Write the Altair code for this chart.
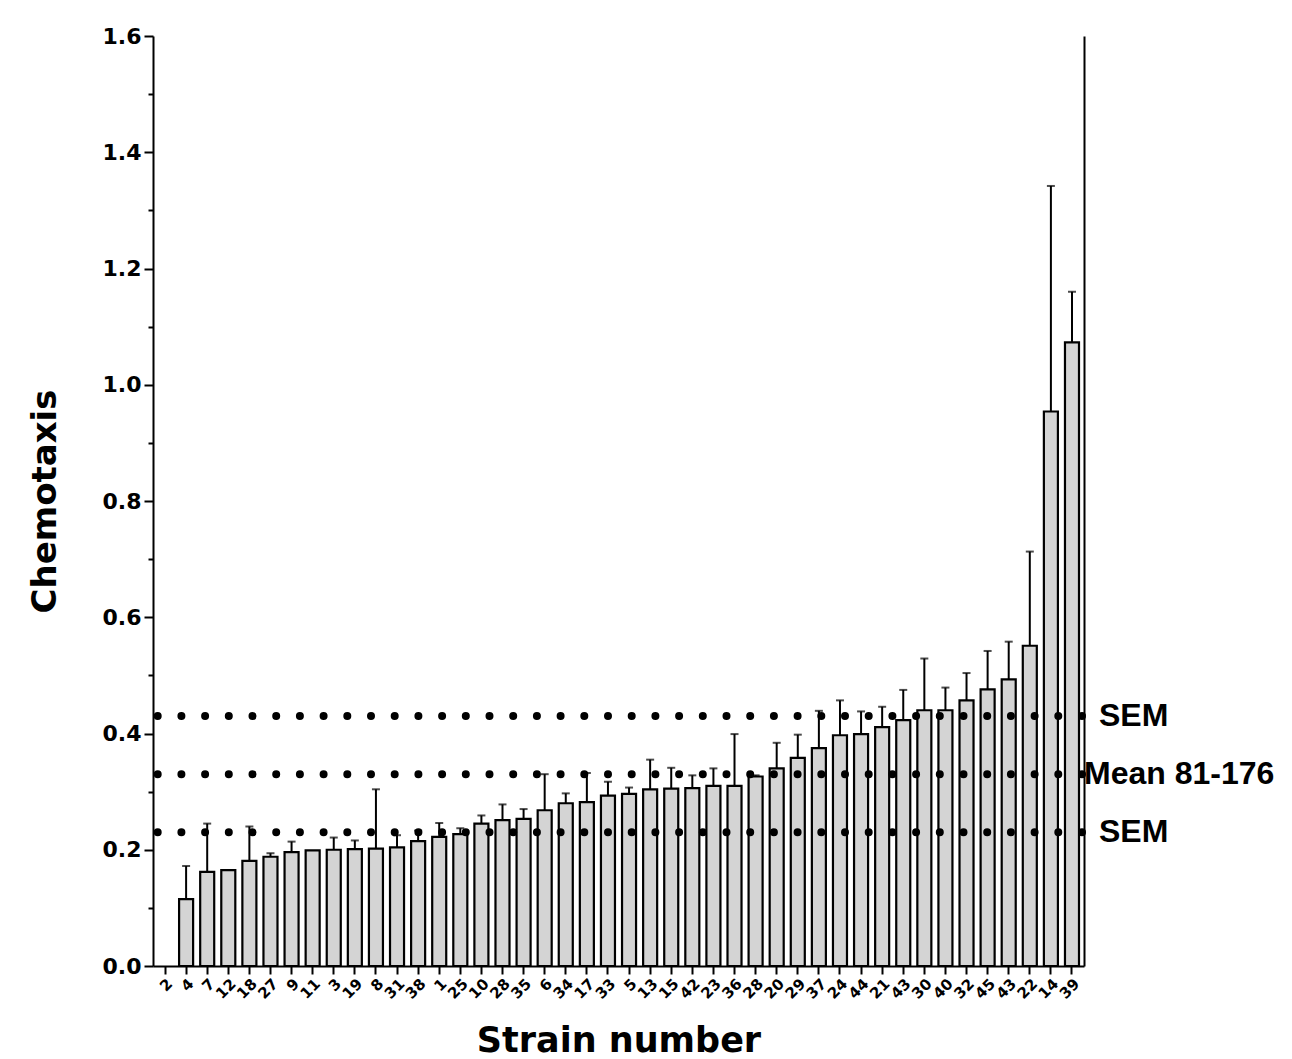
import json
import altair as alt
import pandas as pd

# ---- data ----
strain_labels = ["2", "4", "7", "12", "18", "27", "9", "11", "3", "19", "8", "31", "38", "1",
                 "25", "10", "28", "35", "6", "34", "17", "33", "5", "13", "15", "42", "23",
                 "36", "28", "20", "29", "37", "24", "44", "21", "43", "30", "40", "32", "45",
                 "43", "22", "14", "39"]
chemotaxis_mean = [None, 0.115, 0.162, 0.165, 0.181, 0.188, 0.196, 0.199, 0.200, 0.201, 0.202,
                   0.204, 0.215, 0.222, 0.227, 0.245, 0.251, 0.253, 0.268, 0.280, 0.282, 0.293,
                   0.296, 0.304, 0.305, 0.306, 0.310, 0.310, 0.326, 0.340, 0.358, 0.375, 0.397,
                   0.399, 0.411, 0.423, 0.440, 0.440, 0.457, 0.476, 0.493, 0.551, 0.954, 1.073]
chemotaxis_sem = [None, 0.057, 0.083, 0.0, 0.059, 0.006, 0.018, 0.0, 0.021, 0.015, 0.102,
                  0.021, 0.018, 0.024, 0.010, 0.014, 0.027, 0.017, 0.062, 0.017, 0.050, 0.024,
                  0.011, 0.051, 0.036, 0.022, 0.030, 0.089, 0.002, 0.044, 0.040, 0.064, 0.060,
                  0.039, 0.035, 0.052, 0.089, 0.039, 0.047, 0.066, 0.065, 0.162, 0.388, 0.087]
ref_values = [0.43, 0.33, 0.23]
ref_labels = ["SEM", "Mean 81-176", "SEM"]
y_ticks = [round(i * 0.1, 1) for i in range(17)]

rows = []
for i, (lab, m, s) in enumerate(zip(strain_labels, chemotaxis_mean, chemotaxis_sem)):
    rows.append({"idx": i, "label": lab, "mean": m, "sem": s,
                 "upper": (m + s) if (m is not None and s is not None) else None})
df = pd.DataFrame(rows)
bars_df = df.dropna(subset=["mean"])
err_df = bars_df[bars_df["sem"] > 0]
ref_df = pd.DataFrame({"value": ref_values, "label": ref_labels})

W, H = 931, 930
FONT = "DejaVu Sans"
label_expr = json.dumps(strain_labels) + "[datum.value]"
x_domain = list(range(len(strain_labels)))

x_scale = alt.Scale(domain=x_domain, paddingInner=0.335, paddingOuter=0.237)
x_enc = alt.X("idx:O", scale=x_scale,
              axis=alt.Axis(title="Strain number", labelExpr=label_expr, labelAngle=-45,
                            labelFont=FONT, labelFontWeight="bold", labelFontSize=15,
                            labelColor="black", labelPadding=2,
                            tickSize=8, tickWidth=2, tickColor="black",
                            domainWidth=2, domainColor="black",
                            titleFont=FONT, titleFontWeight="bold", titleFontSize=35,
                            titleColor="black", titlePadding=22))
y_scale = alt.Scale(domain=[0, 1.6], nice=False)

bars = alt.Chart(bars_df).mark_bar(fill="#d4d4d4", stroke="black", strokeWidth=2.2).encode(
    x=x_enc,
    y=alt.Y("mean:Q", scale=y_scale,
            axis=alt.Axis(title="Chemotaxis", values=y_ticks,
                          labelExpr="round(datum.value*10) % 2 == 0 ? format(datum.value, '.1f') : ''",
                          labelFont=FONT, labelFontWeight="bold", labelFontSize=22,
                          labelColor="black", labelPadding=3,
                          tickSize={"condition": {"test": "round(datum.value*10) % 2 == 1", "value": 5},
                                    "value": 9},
                          tickWidth=2, tickColor="black", domainWidth=2, domainColor="black",
                          grid=False,
                          titleFont=FONT, titleFontWeight="bold", titleFontSize=34,
                          titleColor="black", titlePadding=40)),
)

err_rule = alt.Chart(err_df).mark_rule(color="black", strokeWidth=2).encode(
    x=alt.X("idx:O", scale=x_scale), y=alt.Y("mean:Q", scale=y_scale, axis=None), y2="upper:Q")
err_cap = alt.Chart(err_df).mark_tick(color="black", thickness=2, size=8).encode(
    x=alt.X("idx:O", scale=x_scale), y=alt.Y("upper:Q", scale=y_scale, axis=None))

right_line = alt.Chart(ref_df).mark_rule(opacity=0).encode(
    y=alt.Y("value:Q", scale=y_scale,
            axis=alt.Axis(orient="right", title=None, labels=False, ticks=False,
                          domain=True, domainWidth=2, domainColor="black", grid=False)))

dots = alt.Chart(ref_df).mark_rule(color="black", strokeWidth=8, strokeCap="round",
                                   strokeDash=[0, 23.7], strokeDashOffset=-2).encode(
    y=alt.Y("value:Q", scale=y_scale, axis=None))

sem_text = alt.Chart(ref_df).transform_filter("datum.label == 'SEM'").mark_text(
    align="left", baseline="middle", font="Liberation Sans", fontWeight="bold",
    fontSize=32, color="black").encode(
    x=alt.value(W + 15), y=alt.Y("value:Q", scale=y_scale, axis=None), text="label:N")
mean_text = alt.Chart(ref_df).transform_filter("datum.label != 'SEM'").mark_text(
    align="left", baseline="middle", font="Liberation Sans", fontWeight="bold",
    fontSize=32, color="black").encode(
    x=alt.value(W + 0), y=alt.Y("value:Q", scale=y_scale, axis=None), text="label:N")

chart = alt.layer(bars, right_line, err_rule, err_cap, dots, sem_text, mean_text).resolve_axis(
    y="independent"
).properties(
    width=W, height=H,
    padding={"left": 20, "top": 17, "right": 5, "bottom": 0},
    background="white",
).configure_view(stroke=None)

chart.save("out.html", embed_options={"renderer": "svg", "actions": False})
